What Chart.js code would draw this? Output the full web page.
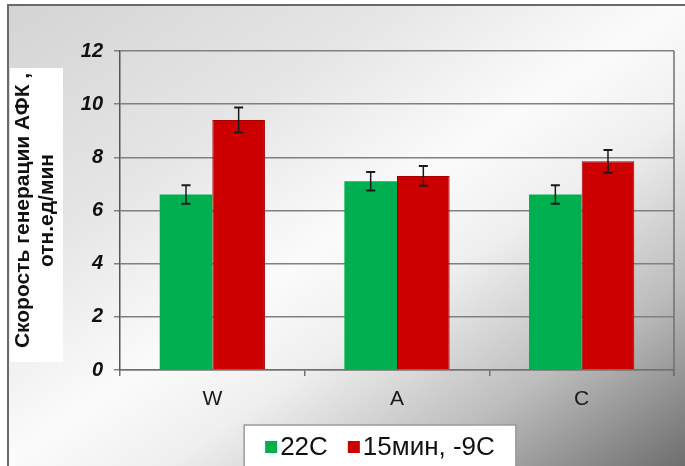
<!DOCTYPE html>
<html>
<head>
<meta charset="utf-8">
<script src="https://cdn.jsdelivr.net/npm/chart.js@4/dist/chart.umd.min.js"></script>
<style>
  html, body { margin: 0; padding: 0; background: #ffffff; }
  #wrap { position: relative; width: 685px; height: 466px; }
</style>
</head>
<body>
<div id="wrap"><canvas id="chart" width="685" height="466"></canvas></div>
<script>
// Categories and series
const categories = ['W', 'A', 'C'];
const seriesNames = ['22C', '15мин, -9C'];
const values22 = [6.6, 7.1, 6.6];
const values15 = [9.4, 7.3, 7.85];
const errors22 = [0.35, 0.35, 0.35];
const errors15 = [0.47, 0.37, 0.43];
const yTicks = [0, 2, 4, 6, 8, 10, 12];
const yTitle = ['Скорость генерации АФК ,', 'отн.ед/мин'];

const GREEN = '#00b050';
const RED = '#cc0000';
const FONT = '"Liberation Sans", Arial, Helvetica, sans-serif';

// Diagonal grey-white-grey backdrop, frame and white box behind the axis title
const backdrop = {
  id: 'backdrop',
  beforeDraw(chart) {
    const ctx = chart.ctx;
    const W = chart.width, H = chart.height;
    ctx.save();
    const g = ctx.createLinearGradient(0, 0, 433, 637);
    g.addColorStop(0, '#d3d3d3');
    g.addColorStop(0.3, '#e6e6e6');
    g.addColorStop(0.5, '#fbfbfb');
    g.addColorStop(0.62, '#efefef');
    g.addColorStop(0.8, '#bdbdbd');
    g.addColorStop(1, '#6e6e6e');
    ctx.fillStyle = g;
    ctx.fillRect(0, 0, W, H);
    ctx.fillStyle = '#ffffff';
    ctx.fillRect(0, 0, W, 4);
    ctx.fillRect(0, 0, 7, H);
    ctx.strokeStyle = '#6a6a6a';
    ctx.lineWidth = 2;
    ctx.beginPath();
    ctx.moveTo(8, H);
    ctx.lineTo(8, 5);
    ctx.lineTo(W, 5);
    ctx.stroke();
    // white panel under the y-axis title
    ctx.fillStyle = '#ffffff';
    ctx.fillRect(10, 68, 53, 294);
    ctx.restore();
  },
  afterDraw(chart) {
    const ctx = chart.ctx;
    const a = chart.chartArea;
    ctx.save();
    ctx.strokeStyle = '#707070';
    ctx.lineWidth = 1.5;
    ctx.beginPath();
    ctx.moveTo(a.right, a.top);
    ctx.lineTo(a.right, a.bottom + 6);
    ctx.stroke();
    ctx.restore();
  }
};

// Error whiskers on top of each bar
const errorBars = {
  id: 'errorBars',
  afterDatasetsDraw(chart) {
    const ctx = chart.ctx;
    const y = chart.scales.y;
    const errs = [errors22, errors15];
    ctx.save();
    ctx.strokeStyle = '#1a1a1a';
    chart.data.datasets.forEach((ds, di) => {
      const meta = chart.getDatasetMeta(di);
      meta.data.forEach((bar, i) => {
        const v = ds.data[i], e = errs[di][i];
        const x = bar.x;
        const yt = y.getPixelForValue(v + e);
        const yb = y.getPixelForValue(v - e);
        ctx.lineWidth = 1.5;
        ctx.beginPath();
        ctx.moveTo(x, yt); ctx.lineTo(x, yb);
        ctx.stroke();
        ctx.lineWidth = 2;
        ctx.beginPath();
        ctx.moveTo(x - 4.5, yt); ctx.lineTo(x + 4.5, yt);
        ctx.moveTo(x - 4.5, yb); ctx.lineTo(x + 4.5, yb);
        ctx.stroke();
      });
    });
    ctx.restore();
  }
};

// Boxed legend under the axis
const boxedLegend = {
  id: 'boxedLegend',
  afterDraw(chart) {
    const ctx = chart.ctx;
    ctx.save();
    ctx.font = '26px ' + FONT;
    const sq = 12, gap = 3, between = 20, pad = 21;
    const items = chart.data.datasets.map(d => ({ text: d.label, color: d.backgroundColor, w: ctx.measureText(d.label).width }));
    let total = 0;
    items.forEach((it, i) => { total += sq + gap + it.w + (i ? between : 0); });
    const boxW = total + 2 * pad;
    const cx = 380;
    const left = cx - boxW / 2, top = 425;
    ctx.fillStyle = '#ffffff';
    ctx.fillRect(left, top, boxW, 60);
    ctx.strokeStyle = '#9a9a9a';
    ctx.lineWidth = 1.5;
    ctx.strokeRect(left, top, boxW, 60);
    let x = left + pad;
    const yc = 447;
    items.forEach((it, i) => {
      if (i) x += between;
      ctx.fillStyle = it.color;
      ctx.fillRect(x, yc - sq / 2, sq, sq);
      x += sq + gap;
      ctx.fillStyle = '#111111';
      ctx.textBaseline = 'middle';
      ctx.textAlign = 'left';
      ctx.fillText(it.text, x, yc + 1);
      x += it.w;
    });
    ctx.restore();
  }
};

new Chart(document.getElementById('chart'), {
  type: 'bar',
  data: {
    labels: categories,
    datasets: [
      { label: seriesNames[0], data: values22, backgroundColor: GREEN, borderWidth: 0,
        categoryPercentage: 0.57, barPercentage: 1.0 },
      { label: seriesNames[1], data: values15, backgroundColor: RED, borderColor: '#a80000', borderWidth: 1,
        categoryPercentage: 0.57, barPercentage: 1.0 }
    ]
  },
  options: {
    responsive: false,
    animation: false,
    devicePixelRatio: 1,
    layout: { padding: { left: 8, top: 51, right: 11, bottom: 0 } },
    plugins: { legend: { display: false }, tooltip: { enabled: false } },
    scales: {
      x: {
        afterFit(s) { s.height = 96; },
        grid: { offset: true, drawOnChartArea: false, drawTicks: true, tickLength: 6, color: '#707070', lineWidth: 1.5 },
        border: { display: true, color: '#707070', width: 1.5 },
        ticks: { color: '#1a1a1a', font: { family: FONT, size: 21 }, padding: 11 }
      },
      y: {
        min: 0, max: 12,
        afterFit(s) { s.width = 112; },
        afterBuildTicks(s) { s.ticks = yTicks.map(v => ({ value: v })); },
        grid: { color: '#808080', lineWidth: 1.5, tickLength: 6 },
        border: { display: true, color: '#555555', width: 1.5 },
        ticks: { color: '#111111', font: { family: FONT, size: 20, style: 'italic', weight: 'bold' }, padding: 11 },
        title: { display: true, text: yTitle, color: '#111111', padding: { top: 3, bottom: 0 },
          font: { family: FONT, size: 21, weight: 'bold', lineHeight: 1.14 } }
      }
    }
  },
  plugins: [backdrop, errorBars, boxedLegend]
});
</script>
</body>
</html>
